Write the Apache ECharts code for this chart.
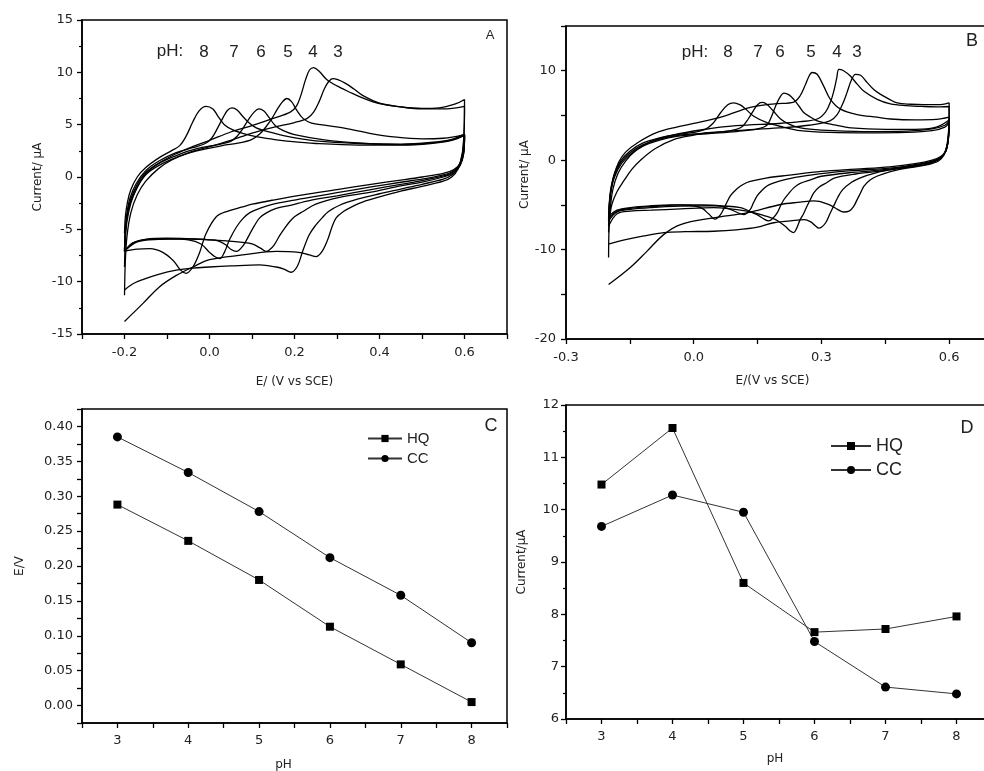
<!DOCTYPE html>
<html>
<head>
<meta charset="utf-8">
<script src="https://cdn.jsdelivr.net/npm/echarts@6/dist/echarts.min.js"></script>
<style>
  html, body { margin: 0; background: #fff; }
  #chart { width: 984px; height: 771px; }
</style>
</head>
<body>
<div id="chart"></div>
<script>
// ---- panel A: HQ cyclic voltammograms, [E (V), I (uA)], anodic scan then cathodic scan
const cvA_pH8 = [[-0.2,-5.4],[-0.198,-3.8],[-0.193,-2.4],[-0.185,-1.2],[-0.17,0.0],[-0.15,0.9],[-0.12,1.8],[-0.09,2.5],[-0.07,3.0],[-0.055,3.9],[-0.04,5.2],[-0.025,6.3],[-0.008,6.75],[0.008,6.5],[0.02,5.8],[0.035,5.0],[0.055,4.5],[0.08,4.15],[0.11,3.85],[0.15,3.6],[0.19,3.4],[0.25,3.2],[0.35,3.05],[0.45,3.05],[0.52,3.2],[0.57,3.5],[0.6,4.0],
  [0.6,3.7],[0.598,2.4],[0.59,1.3],[0.575,0.7],[0.55,0.35],[0.5,0.0],[0.45,-0.3],[0.38,-0.7],[0.3,-1.2],[0.22,-1.7],[0.15,-2.2],[0.1,-2.6],[0.078,-2.85],[0.04,-3.3],[0.016,-3.8],[-0.008,-5.4],[-0.024,-7.3],[-0.039,-8.6],[-0.055,-9.2],[-0.068,-8.9],[-0.085,-8.0],[-0.11,-7.2],[-0.14,-6.85],[-0.17,-6.9],[-0.2,-7.1]];
const cvA_pH7 = [[-0.2,-7.1],[-0.198,-5.0],[-0.194,-3.4],[-0.187,-2.0],[-0.172,-0.6],[-0.15,0.6],[-0.12,1.5],[-0.08,2.3],[-0.04,2.8],[-0.01,3.2],[0.005,3.7],[0.018,4.6],[0.031,5.6],[0.042,6.35],[0.053,6.6],[0.065,6.4],[0.078,5.8],[0.095,5.1],[0.11,4.7],[0.14,4.3],[0.18,3.9],[0.25,3.45],[0.35,3.2],[0.45,3.15],[0.52,3.3],[0.57,3.6],[0.6,4.1],
  [0.6,3.9],[0.598,2.5],[0.59,1.3],[0.575,0.6],[0.55,0.2],[0.5,-0.2],[0.45,-0.5],[0.38,-0.95],[0.3,-1.5],[0.25,-1.85],[0.2,-2.2],[0.15,-2.6],[0.118,-3.0],[0.095,-3.4],[0.078,-4.0],[0.063,-4.8],[0.047,-6.0],[0.035,-7.2],[0.024,-7.8],[0.012,-7.6],[0.0,-7.2],[-0.02,-6.4],[-0.05,-6.0],[-0.1,-5.9],[-0.15,-5.95],[-0.18,-6.3],[-0.2,-7.1]];
const cvA_pH6 = [[-0.2,-7.1],[-0.198,-5.2],[-0.194,-3.6],[-0.186,-2.2],[-0.17,-0.7],[-0.148,0.5],[-0.115,1.4],[-0.075,2.1],[-0.03,2.7],[0.02,3.1],[0.05,3.4],[0.065,3.9],[0.078,4.6],[0.092,5.5],[0.105,6.2],[0.116,6.5],[0.128,6.3],[0.14,5.7],[0.155,4.9],[0.175,4.4],[0.2,4.05],[0.27,3.55],[0.35,3.25],[0.45,3.1],[0.52,3.25],[0.57,3.55],[0.6,4.0],
  [0.6,3.8],[0.598,2.3],[0.59,1.2],[0.575,0.5],[0.55,0.1],[0.5,-0.35],[0.45,-0.7],[0.38,-1.2],[0.3,-1.8],[0.235,-2.25],[0.19,-2.7],[0.157,-3.0],[0.135,-3.4],[0.118,-3.9],[0.105,-4.7],[0.094,-5.5],[0.08,-6.5],[0.063,-7.1],[0.05,-6.9],[0.039,-6.5],[0.02,-6.1],[0.0,-6.0],[-0.05,-5.9],[-0.1,-5.85],[-0.15,-5.95],[-0.18,-6.3],[-0.2,-7.1]];
const cvA_pH5 = [[-0.2,-7.1],[-0.198,-5.3],[-0.194,-3.8],[-0.185,-2.3],[-0.168,-0.8],[-0.145,0.4],[-0.11,1.3],[-0.07,2.0],[-0.03,2.5],[0.03,3.0],[0.07,3.25],[0.1,3.6],[0.118,4.1],[0.133,4.8],[0.147,5.6],[0.16,6.5],[0.172,7.2],[0.182,7.5],[0.193,7.2],[0.205,6.4],[0.22,5.6],[0.24,5.15],[0.27,4.95],[0.32,4.65],[0.38,4.15],[0.44,3.8],[0.5,3.65],[0.55,3.7],[0.6,4.05],
  [0.6,3.8],[0.598,2.2],[0.59,1.1],[0.575,0.4],[0.55,0.0],[0.5,-0.5],[0.45,-0.85],[0.38,-1.45],[0.306,-1.95],[0.25,-2.6],[0.22,-3.3],[0.2,-3.8],[0.188,-4.3],[0.175,-5.0],[0.165,-5.6],[0.152,-6.5],[0.14,-7.0],[0.133,-7.1],[0.12,-6.8],[0.1,-6.4],[0.078,-6.25],[0.04,-6.1],[0.0,-6.0],[-0.06,-5.9],[-0.12,-5.95],[-0.17,-6.2],[-0.2,-7.1]];
const cvA_pH4 = [[-0.2,-8.6],[-0.198,-6.0],[-0.194,-4.2],[-0.185,-2.5],[-0.17,-1.0],[-0.15,0.3],[-0.12,1.3],[-0.08,2.2],[-0.04,2.9],[0.0,3.5],[0.05,4.3],[0.1,4.9],[0.15,5.6],[0.19,6.2],[0.205,6.8],[0.215,7.8],[0.226,9.3],[0.235,10.2],[0.245,10.45],[0.258,10.1],[0.275,9.35],[0.3,8.7],[0.33,8.1],[0.36,7.55],[0.4,7.0],[0.45,6.7],[0.5,6.55],[0.54,6.6],[0.58,7.0],[0.6,7.4],
  [0.6,7.0],[0.599,4.5],[0.595,2.3],[0.585,0.9],[0.57,0.2],[0.55,-0.2],[0.5,-0.7],[0.45,-1.15],[0.4,-1.6],[0.35,-2.1],[0.306,-2.7],[0.28,-3.3],[0.265,-3.9],[0.25,-4.6],[0.235,-5.5],[0.22,-7.0],[0.207,-8.5],[0.192,-9.1],[0.175,-8.8],[0.157,-8.6],[0.118,-8.4],[0.05,-8.5],[0.0,-8.6],[-0.04,-8.7],[-0.078,-8.9],[-0.12,-9.3],[-0.157,-9.8],[-0.18,-10.2],[-0.2,-10.8]];
const cvA_pH3 = [[-0.2,-11.3],[-0.198,-8.0],[-0.194,-5.6],[-0.185,-3.4],[-0.17,-1.7],[-0.15,-0.4],[-0.12,0.8],[-0.09,1.6],[-0.05,2.3],[0.0,2.9],[0.05,3.5],[0.1,4.2],[0.15,4.75],[0.2,5.2],[0.23,5.6],[0.245,6.2],[0.258,7.2],[0.27,8.4],[0.28,9.1],[0.29,9.4],[0.302,9.3],[0.32,8.95],[0.34,8.4],[0.36,7.8],[0.4,7.05],[0.45,6.7],[0.5,6.5],[0.55,6.5],[0.6,6.75],
  [0.6,6.5],[0.599,4.2],[0.595,2.2],[0.585,0.8],[0.57,0.0],[0.55,-0.4],[0.5,-0.9],[0.45,-1.35],[0.4,-1.9],[0.36,-2.4],[0.337,-2.8],[0.315,-3.3],[0.298,-3.9],[0.288,-4.8],[0.278,-6.0],[0.265,-7.1],[0.251,-7.6],[0.235,-7.45],[0.21,-7.2],[0.157,-7.1],[0.078,-7.45],[0.0,-7.9],[-0.039,-8.6],[-0.078,-9.4],[-0.118,-10.5],[-0.157,-12.1],[-0.2,-13.8]];

// ---- panel B: CC cyclic voltammograms
const cvB_pH8 = [[-0.2,-6.3],[-0.198,-4.6],[-0.194,-3.0],[-0.186,-1.5],[-0.172,-0.1],[-0.15,1.0],[-0.12,1.9],[-0.08,2.5],[-0.04,2.85],[0.0,3.1],[0.025,3.4],[0.045,4.1],[0.063,5.3],[0.08,6.2],[0.094,6.4],[0.108,6.2],[0.12,5.8],[0.141,4.9],[0.172,4.2],[0.21,3.7],[0.25,3.3],[0.32,3.1],[0.41,3.05],[0.5,3.1],[0.56,3.3],[0.59,3.7],[0.6,4.2],
  [0.6,4.0],[0.598,2.2],[0.592,1.0],[0.58,0.4],[0.56,0.0],[0.52,-0.4],[0.46,-0.75],[0.38,-1.0],[0.3,-1.25],[0.22,-1.7],[0.17,-2.0],[0.149,-2.2],[0.125,-2.5],[0.11,-2.9],[0.095,-3.5],[0.086,-4.0],[0.075,-5.0],[0.063,-6.1],[0.05,-6.6],[0.035,-6.0],[0.02,-5.4],[0.0,-5.1],[-0.05,-5.0],[-0.1,-5.1],[-0.149,-5.3],[-0.18,-5.6],[-0.2,-6.3]];
const cvB_pH7 = [[-0.2,-6.6],[-0.198,-4.8],[-0.194,-3.2],[-0.186,-1.7],[-0.172,-0.3],[-0.15,0.8],[-0.12,1.7],[-0.08,2.35],[-0.04,2.75],[0.02,3.0],[0.07,3.2],[0.1,3.45],[0.115,3.8],[0.128,4.6],[0.141,5.6],[0.15,6.2],[0.16,6.45],[0.17,6.3],[0.185,5.6],[0.204,4.6],[0.225,4.0],[0.251,3.6],[0.3,3.35],[0.4,3.2],[0.5,3.25],[0.56,3.5],[0.59,3.9],[0.6,4.4],
  [0.6,4.2],[0.598,2.3],[0.592,1.0],[0.58,0.3],[0.56,-0.1],[0.52,-0.5],[0.46,-0.9],[0.38,-1.15],[0.3,-1.5],[0.25,-1.85],[0.212,-2.2],[0.185,-2.6],[0.172,-2.9],[0.16,-3.4],[0.149,-4.0],[0.14,-4.8],[0.133,-5.5],[0.118,-6.1],[0.1,-5.8],[0.086,-5.5],[0.06,-5.1],[0.02,-5.0],[-0.031,-5.0],[-0.1,-5.2],[-0.149,-5.4],[-0.18,-5.7],[-0.2,-6.6]];
const cvB_pH6 = [[-0.2,-6.8],[-0.198,-5.0],[-0.194,-3.4],[-0.186,-1.9],[-0.17,-0.4],[-0.148,0.7],[-0.118,1.6],[-0.08,2.25],[-0.04,2.65],[0.03,2.95],[0.1,3.2],[0.15,3.5],[0.172,3.9],[0.182,4.8],[0.192,6.0],[0.202,7.0],[0.212,7.5],[0.224,7.3],[0.235,6.8],[0.248,6.0],[0.259,5.3],[0.275,4.8],[0.29,4.4],[0.33,3.95],[0.37,3.6],[0.45,3.45],[0.52,3.45],[0.57,3.7],[0.6,4.5],
  [0.6,4.3],[0.598,2.3],[0.592,1.0],[0.58,0.2],[0.56,-0.2],[0.52,-0.6],[0.46,-1.0],[0.38,-1.35],[0.3,-1.8],[0.274,-2.2],[0.25,-2.6],[0.235,-3.1],[0.222,-3.8],[0.212,-4.4],[0.204,-5.1],[0.196,-5.9],[0.186,-6.5],[0.176,-6.8],[0.162,-6.5],[0.149,-6.1],[0.13,-5.7],[0.11,-5.3],[0.047,-5.1],[-0.031,-5.15],[-0.1,-5.3],[-0.149,-5.5],[-0.18,-5.8],[-0.2,-6.8]];
const cvB_pH5 = [[-0.2,-7.4],[-0.198,-5.4],[-0.195,-3.6],[-0.188,-1.8],[-0.176,-0.2],[-0.16,0.9],[-0.13,2.0],[-0.086,3.1],[-0.04,3.7],[0.0,4.1],[0.07,4.9],[0.133,5.9],[0.19,6.3],[0.235,6.5],[0.25,7.2],[0.262,8.4],[0.27,9.3],[0.278,9.8],[0.29,9.6],[0.305,8.3],[0.321,6.8],[0.345,5.7],[0.384,5.1],[0.43,4.8],[0.462,4.6],[0.52,4.5],[0.57,4.55],[0.6,4.8],
  [0.6,4.5],[0.598,2.4],[0.592,1.0],[0.58,0.2],[0.56,-0.3],[0.52,-0.7],[0.46,-1.1],[0.38,-1.55],[0.33,-2.0],[0.313,-2.5],[0.295,-3.0],[0.282,-3.65],[0.272,-4.6],[0.266,-5.15],[0.258,-6.0],[0.25,-6.65],[0.242,-7.6],[0.235,-8.1],[0.226,-7.9],[0.215,-7.4],[0.204,-7.0],[0.19,-6.6],[0.172,-6.3],[0.125,-5.7],[0.047,-5.3],[-0.031,-5.45],[-0.1,-5.6],[-0.149,-5.7],[-0.18,-6.0],[-0.2,-7.4]];
const cvB_pH4 = [[-0.2,-10.9],[-0.199,-7.8],[-0.196,-5.4],[-0.19,-3.3],[-0.178,-1.5],[-0.16,-0.1],[-0.135,1.1],[-0.1,2.1],[-0.05,2.8],[0.02,3.4],[0.1,3.85],[0.2,4.1],[0.25,4.3],[0.29,4.6],[0.31,5.4],[0.322,6.6],[0.33,7.9],[0.336,9.2],[0.341,10.15],[0.352,10.0],[0.368,9.4],[0.384,8.5],[0.4,7.7],[0.431,6.8],[0.462,6.3],[0.5,6.1],[0.54,6.0],[0.58,5.95],[0.6,6.0],
  [0.6,5.7],[0.599,3.2],[0.595,1.6],[0.586,0.6],[0.57,0.0],[0.54,-0.4],[0.48,-0.9],[0.43,-1.4],[0.39,-2.0],[0.37,-2.5],[0.35,-3.3],[0.338,-4.2],[0.33,-5.0],[0.32,-6.0],[0.31,-7.0],[0.3,-7.5],[0.294,-7.6],[0.285,-7.3],[0.275,-6.9],[0.26,-6.65],[0.227,-6.8],[0.188,-7.0],[0.15,-7.5],[0.1,-7.8],[0.047,-7.95],[-0.02,-8.0],[-0.07,-8.1],[-0.12,-8.5],[-0.16,-8.9],[-0.2,-9.4]];
const cvB_pH3 = [[-0.2,-8.1],[-0.198,-6.6],[-0.192,-4.9],[-0.18,-3.5],[-0.164,-2.3],[-0.145,-1.0],[-0.125,0.0],[-0.09,1.3],[-0.047,2.3],[0.0,2.8],[0.031,3.05],[0.1,3.3],[0.2,3.6],[0.27,3.9],[0.32,4.4],[0.337,5.1],[0.35,6.3],[0.36,7.55],[0.37,8.9],[0.38,9.6],[0.392,9.5],[0.407,8.7],[0.423,7.9],[0.439,7.35],[0.46,6.8],[0.478,6.4],[0.51,6.25],[0.54,6.2],[0.58,6.2],[0.6,6.4],
  [0.6,6.1],[0.599,3.5],[0.595,1.7],[0.588,0.6],[0.575,-0.1],[0.55,-0.5],[0.5,-0.9],[0.46,-1.3],[0.43,-1.8],[0.415,-2.2],[0.4,-2.9],[0.392,-3.65],[0.383,-4.5],[0.376,-5.15],[0.365,-5.7],[0.352,-5.8],[0.338,-5.5],[0.325,-5.15],[0.313,-4.9],[0.295,-4.6],[0.282,-4.55],[0.25,-4.7],[0.204,-4.96],[0.125,-5.9],[0.047,-6.45],[-0.031,-7.2],[-0.07,-8.3],[-0.11,-10.2],[-0.149,-12.0],[-0.2,-13.9]];

// ---- panels C and D
const pH = [3, 4, 5, 6, 7, 8];
const potentialHQ = [0.288, 0.236, 0.180, 0.113, 0.059, 0.005];
const potentialCC = [0.385, 0.334, 0.278, 0.212, 0.158, 0.090];
const currentHQ = [10.48, 11.56, 8.60, 7.66, 7.72, 7.96];
const currentCC = [9.68, 10.28, 9.95, 7.48, 6.61, 6.48];

const phMarks = ['8', '7', '6', '5', '4', '3'];
const phMarkXA = [204, 234, 261, 288, 313, 338];
const phMarkXB = [728, 758, 780, 811, 837, 857];

const cvListA = [cvA_pH3, cvA_pH4, cvA_pH5, cvA_pH6, cvA_pH7, cvA_pH8];
const cvListB = [cvB_pH3, cvB_pH4, cvB_pH5, cvB_pH6, cvB_pH7, cvB_pH8];

const tickFont = { fontFamily: 'DejaVu Sans', fontSize: 13, color: '#222' };
const nameFont = { fontFamily: 'DejaVu Sans', fontSize: 12, color: '#222' };

function axis(o) {
  return {
    type: 'value',
    gridIndex: o.grid,
    min: o.min,
    max: o.max,
    interval: o.interval,
    name: o.name,
    nameLocation: 'middle',
    nameGap: o.nameGap,
    nameTextStyle: Object.assign({}, nameFont, { padding: o.namePad || 0 }),
    axisLine: { show: true, onZero: false, lineStyle: { color: '#000', width: 1.6 } },
    axisTick: { show: true, length: 5, lineStyle: { color: '#000', width: 1.3 } },
    minorTick: { show: !!o.minor, splitNumber: 2, length: 3, lineStyle: { color: '#000', width: 1.2 } },
    splitLine: { show: false },
    axisLabel: Object.assign({}, tickFont, { margin: o.margin, formatter: o.fmt, showMinLabel: true, showMaxLabel: true, hideOverlap: false })
  };
}

const everyOther = (step, dec) => v => (Math.round(v / step) % 2 === 0 ? v.toFixed(dec) : '');
const intOnly = v => (Math.abs(v - Math.round(v)) < 1e-6 ? String(Math.round(v)) : '');

const gridBox = { show: true, borderColor: '#000', borderWidth: 1.5, backgroundColor: 'transparent', containLabel: false, outerBoundsMode: 'none' };

const series = [];
cvListA.forEach(d => series.push({ type: 'line', xAxisIndex: 0, yAxisIndex: 0, data: d, smooth: 0.35, symbol: 'none', silent: true, lineStyle: { color: '#000', width: 1.3 } }));
cvListB.forEach(d => series.push({ type: 'line', xAxisIndex: 1, yAxisIndex: 1, data: d, smooth: 0.35, symbol: 'none', silent: true, lineStyle: { color: '#000', width: 1.3 } }));

function markerSeries(name, idx, ys, sym, size) {
  return {
    name: name, type: 'line', xAxisIndex: idx, yAxisIndex: idx,
    data: pH.map((p, i) => [p, ys[i]]),
    symbol: sym, symbolSize: size,
    itemStyle: { color: '#000' },
    lineStyle: { color: '#333', width: 1 }
  };
}
series.push(markerSeries('HQ', 2, potentialHQ, 'rect', 8));
series.push(markerSeries('CC', 2, potentialCC, 'circle', 9));
series.push(markerSeries('HQ', 3, currentHQ, 'rect', 8));
series.push(markerSeries('CC', 3, currentCC, 'circle', 9));

const graphic = [];
function txt(x, y, s, size, family) {
  graphic.push({ type: 'text', x: x, y: y, silent: true,
    style: { text: s, fontSize: size, fontFamily: family || 'Liberation Sans', fill: '#222', align: 'center', verticalAlign: 'middle' } });
}
txt(170, 51, 'pH:', 17);
phMarks.forEach((m, i) => txt(phMarkXA[i], 52, m, 17));
txt(695, 52, 'pH:', 17);
phMarks.forEach((m, i) => txt(phMarkXB[i], 52, m, 17));
txt(490, 35, 'A', 13);
txt(972, 41, 'B', 18);
txt(491, 426, 'C', 18);
txt(967, 428, 'D', 18);

const chart = echarts.init(document.getElementById('chart'));
chart.setOption({
  animation: false,
  backgroundColor: '#fff',
  grid: [
    Object.assign({ left: 82, top: 20, width: 425, height: 314 }, gridBox),
    Object.assign({ left: 566, top: 26, width: 447, height: 313 }, gridBox),
    Object.assign({ left: 82, top: 409, width: 425, height: 314 }, gridBox),
    Object.assign({ left: 566, top: 405, width: 426, height: 314 }, gridBox)
  ],
  xAxis: [
    axis({ grid: 0, min: -0.3, max: 0.7, interval: 0.1, fmt: everyOther(0.1, 1), margin: 12, name: 'E/ (V vs SCE)', nameGap: 42 }),
    axis({ grid: 1, min: -0.3, max: 0.75, interval: 0.15, fmt: everyOther(0.15, 1), margin: 12, name: 'E/(V vs SCE)', nameGap: 36, namePad: [0, 34, 0, 0] }),
    axis({ grid: 2, min: 2.5, max: 8.5, interval: 0.5, fmt: intOnly, margin: 11, name: 'pH', nameGap: 36, namePad: [0, 22, 0, 0] }),
    axis({ grid: 3, min: 2.5, max: 8.5, interval: 0.5, fmt: intOnly, margin: 11, name: 'pH', nameGap: 34, namePad: [0, 8, 0, 0] })
  ],
  yAxis: [
    axis({ grid: 0, min: -15, max: 15, interval: 5, minor: true, fmt: v => String(v), margin: 9, name: 'Current/ μA', nameGap: 38 }),
    axis({ grid: 1, min: -20, max: 15, interval: 5, minor: false, fmt: everyOther(5, 0), margin: 10, name: 'Current/ μA', nameGap: 32, namePad: [0, 0, 0, 16] }),
    axis({ grid: 2, min: -0.025, max: 0.425, interval: 0.025, fmt: everyOther(0.025, 2), margin: 9, name: 'E/V', nameGap: 56 }),
    axis({ grid: 3, min: 6, max: 12, interval: 1, minor: true, fmt: v => String(v), margin: 7, name: 'Current/μA', nameGap: 38 })
  ],
  legend: [
    { data: ['HQ', 'CC'], orient: 'vertical', left: 362, top: 426, itemWidth: 34, itemHeight: 9, itemGap: 5,
      textStyle: { fontFamily: 'Liberation Sans', fontSize: 15, color: '#222' }, selectedMode: false },
    { data: ['HQ', 'CC'], orient: 'vertical', left: 825, top: 432, itemWidth: 40, itemHeight: 10, itemGap: 6,
      textStyle: { fontFamily: 'Liberation Sans', fontSize: 18, color: '#222' }, selectedMode: false }
  ],
  graphic: graphic,
  series: series
});
</script>
</body>
</html>
